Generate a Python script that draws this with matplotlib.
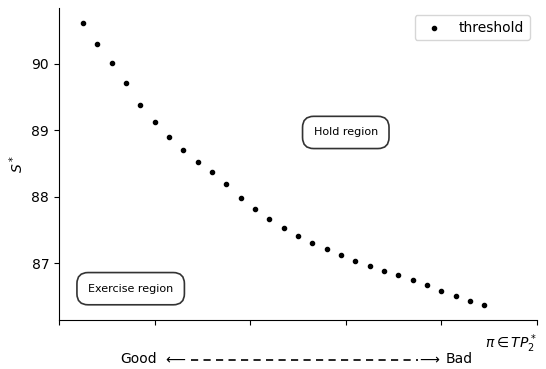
import numpy as np
import matplotlib
matplotlib.use('Agg')
import matplotlib.pyplot as plt
from matplotlib.lines import Line2D

# 阈值曲线
pi_vals = [0.05, 0.08, 0.11, 0.14, 0.17, 0.20, 0.23, 0.26, 0.29, 0.32,
           0.35, 0.38, 0.41, 0.44, 0.47, 0.50, 0.53, 0.56, 0.59, 0.62,
           0.65, 0.68, 0.71, 0.74, 0.77, 0.80, 0.83, 0.86, 0.89]
s_star = [90.61, 90.30, 90.02, 89.72, 89.39, 89.12, 88.90, 88.70, 88.53, 88.38,
          88.20, 87.99, 87.82, 87.67, 87.53, 87.41, 87.30, 87.21, 87.12, 87.04,
          86.96, 86.89, 86.82, 86.75, 86.68, 86.59, 86.51, 86.44, 86.37]
y_ticks = [87, 88, 89, 90]
x_ticks = [0.0, 0.2, 0.4, 0.6, 0.8, 1.0]

W, H = 546, 369
fig = plt.figure(figsize=(W / 100, H / 100), dpi=100)
ax = fig.add_axes([0.108, 0.133, 0.8755, 0.845])

ax.scatter(pi_vals, s_star, color='black', s=9, label='threshold')

ax.set_xlim(0, 1)
ax.set_ylim(86.15, 90.84)
ax.set_xticks(x_ticks)
ax.set_xticklabels([])
ax.set_yticks(y_ticks)
ax.spines['top'].set_visible(False)
ax.spines['right'].set_visible(False)

ax.set_ylabel(r'$S^*$')
ax.set_xlabel(r'$\pi \in TP_2^*$', loc='right', labelpad=2)

box = dict(boxstyle='round,pad=1', facecolor='white', edgecolor='#333333', linewidth=1.2)
ax.text(0.6, 88.97, 'Hold region', fontsize=8, ha='center', va='center', bbox=box)
ax.text(0.15, 86.62, 'Exercise region', fontsize=8, ha='center', va='center', bbox=box)

ax.legend(loc='upper right')

# Good <---- ----> Bad
yb = 1 - 359 / H
fig.text(157 / W, yb, 'Good', ha='right', va='center', fontsize=10)
fig.text(163 / W, yb, r'$\longleftarrow$', ha='left', va='center', fontsize=10)
fig.add_artist(Line2D([191 / W, 418 / W], [yb - 0.002, yb - 0.002], transform=fig.transFigure,
                      color='black', linewidth=1.2, dashes=(4.3, 3.2)))
fig.text(441 / W, yb, r'$\longrightarrow$', ha='right', va='center', fontsize=10)
fig.text(446 / W, yb, 'Bad', ha='left', va='center', fontsize=10)

fig.savefig('out.png', dpi=100)
